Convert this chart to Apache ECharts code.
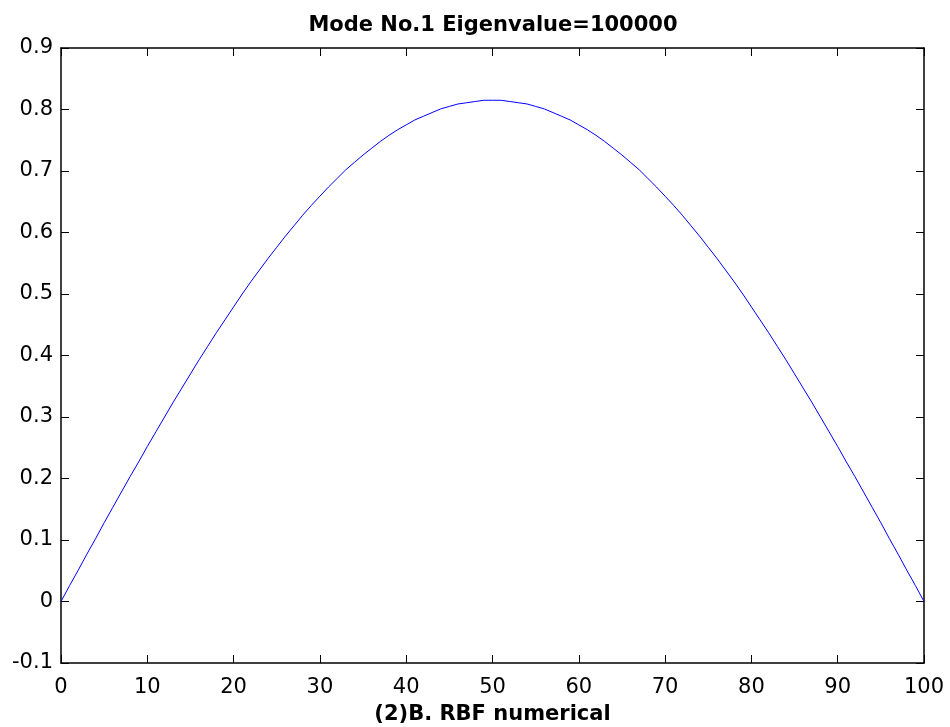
<!DOCTYPE html>
<html><head><meta charset="utf-8">
<script src="https://cdn.jsdelivr.net/npm/echarts@6/dist/echarts.min.js"></script>
<style>html,body{margin:0;padding:0;background:#fff}#c{width:950px;height:727px}</style>
</head><body><div id="c"></div>
<script>
const titleText = "Mode No.1 Eigenvalue=100000";
const xAxisName = "(2)B. RBF numerical";
const xValues = [0,1,2,3,4,5,6,7,8,9,10,11,12,13,14,15,16,17,18,19,20,21,22,23,24,25,26,27,28,29,30,31,32,33,34,35,36,37,38,39,40,41,42,43,44,45,46,47,48,49,50,51,52,53,54,55,56,57,58,59,60,61,62,63,64,65,66,67,68,69,70,71,72,73,74,75,76,77,78,79,80,81,82,83,84,85,86,87,88,89,90,91,92,93,94,95,96,97,98,99,100];
const yValues = [0,0.026,0.051,0.077,0.102,0.128,0.153,0.178,0.203,0.227,0.252,0.276,0.300,0.324,0.347,0.370,0.393,0.415,0.437,0.458,0.479,0.500,0.520,0.539,0.558,0.576,0.594,0.611,0.628,0.644,0.659,0.674,0.688,0.702,0.714,0.726,0.737,0.748,0.758,0.767,0.775,0.783,0.789,0.795,0.801,0.805,0.809,0.811,0.813,0.815,0.815,0.815,0.813,0.811,0.809,0.805,0.801,0.795,0.789,0.783,0.775,0.767,0.758,0.748,0.737,0.726,0.714,0.702,0.688,0.674,0.659,0.644,0.628,0.611,0.594,0.576,0.558,0.539,0.520,0.500,0.479,0.458,0.437,0.415,0.393,0.370,0.347,0.324,0.300,0.276,0.252,0.227,0.203,0.178,0.153,0.128,0.102,0.077,0.051,0.026,0];
const xTicks = [0,10,20,30,40,50,60,70,80,90,100];
const yTicks = [-0.1,0,0.1,0.2,0.3,0.4,0.5,0.6,0.7,0.8,0.9];

const chart = echarts.init(document.getElementById('c'), null, {renderer:'canvas'});
const font = '"DejaVu Sans", "Liberation Sans", Arial, sans-serif';
const axLine = {show:true, onZero:false, lineStyle:{color:'#000', width:1.5}};
const tick = {show:true, inside:true, length:8, lineStyle:{color:'#000', width:1}};
chart.setOption({
  animation:false,
  backgroundColor:'#fff',
  title:{text:titleText, left:488, textAlign:'center', top:10,
    textStyle:{fontFamily:font, fontWeight:'bold', fontSize:21, color:'#000'}},
  grid:{left:61, right:26, top:48, bottom:64, containLabel:false, outerBoundsMode:'none'},
  xAxis:[
    {type:'value', min:0, max:100, interval:10, position:'bottom',
     name:xAxisName, nameLocation:'middle', nameGap:41,
     nameTextStyle:{fontFamily:font, fontWeight:'bold', fontSize:21, color:'#000'},
     axisLine:axLine, axisTick:tick, splitLine:{show:false},
     axisLabel:{fontFamily:font, fontSize:21, color:'#000', margin:14,
       formatter:v=>xTicks.includes(v)?String(v):''}},
    {type:'value', min:0, max:100, interval:10, position:'top',
     axisLine:axLine, axisTick:tick, splitLine:{show:false}, axisLabel:{show:false}}
  ],
  yAxis:[
    {type:'value', min:-0.1, max:0.9, interval:0.1, position:'left',
     axisLine:axLine, axisTick:tick, splitLine:{show:false},
     axisLabel:{fontFamily:font, fontSize:21, color:'#000', margin:8,
       formatter:v=>{const r=Math.round(v*10)/10; return yTicks.includes(r)?String(r):'';}}},
    {type:'value', min:-0.1, max:0.9, interval:0.1, position:'right',
     axisLine:axLine, axisTick:tick, splitLine:{show:false}, axisLabel:{show:false}}
  ],
  series:[{type:'line', xAxisIndex:0, yAxisIndex:0, showSymbol:false, symbol:'none',
    data:xValues.map((x,i)=>[x,yValues[i]]),
    lineStyle:{color:'#0000ff', width:1}}]
});
</script></body></html>
